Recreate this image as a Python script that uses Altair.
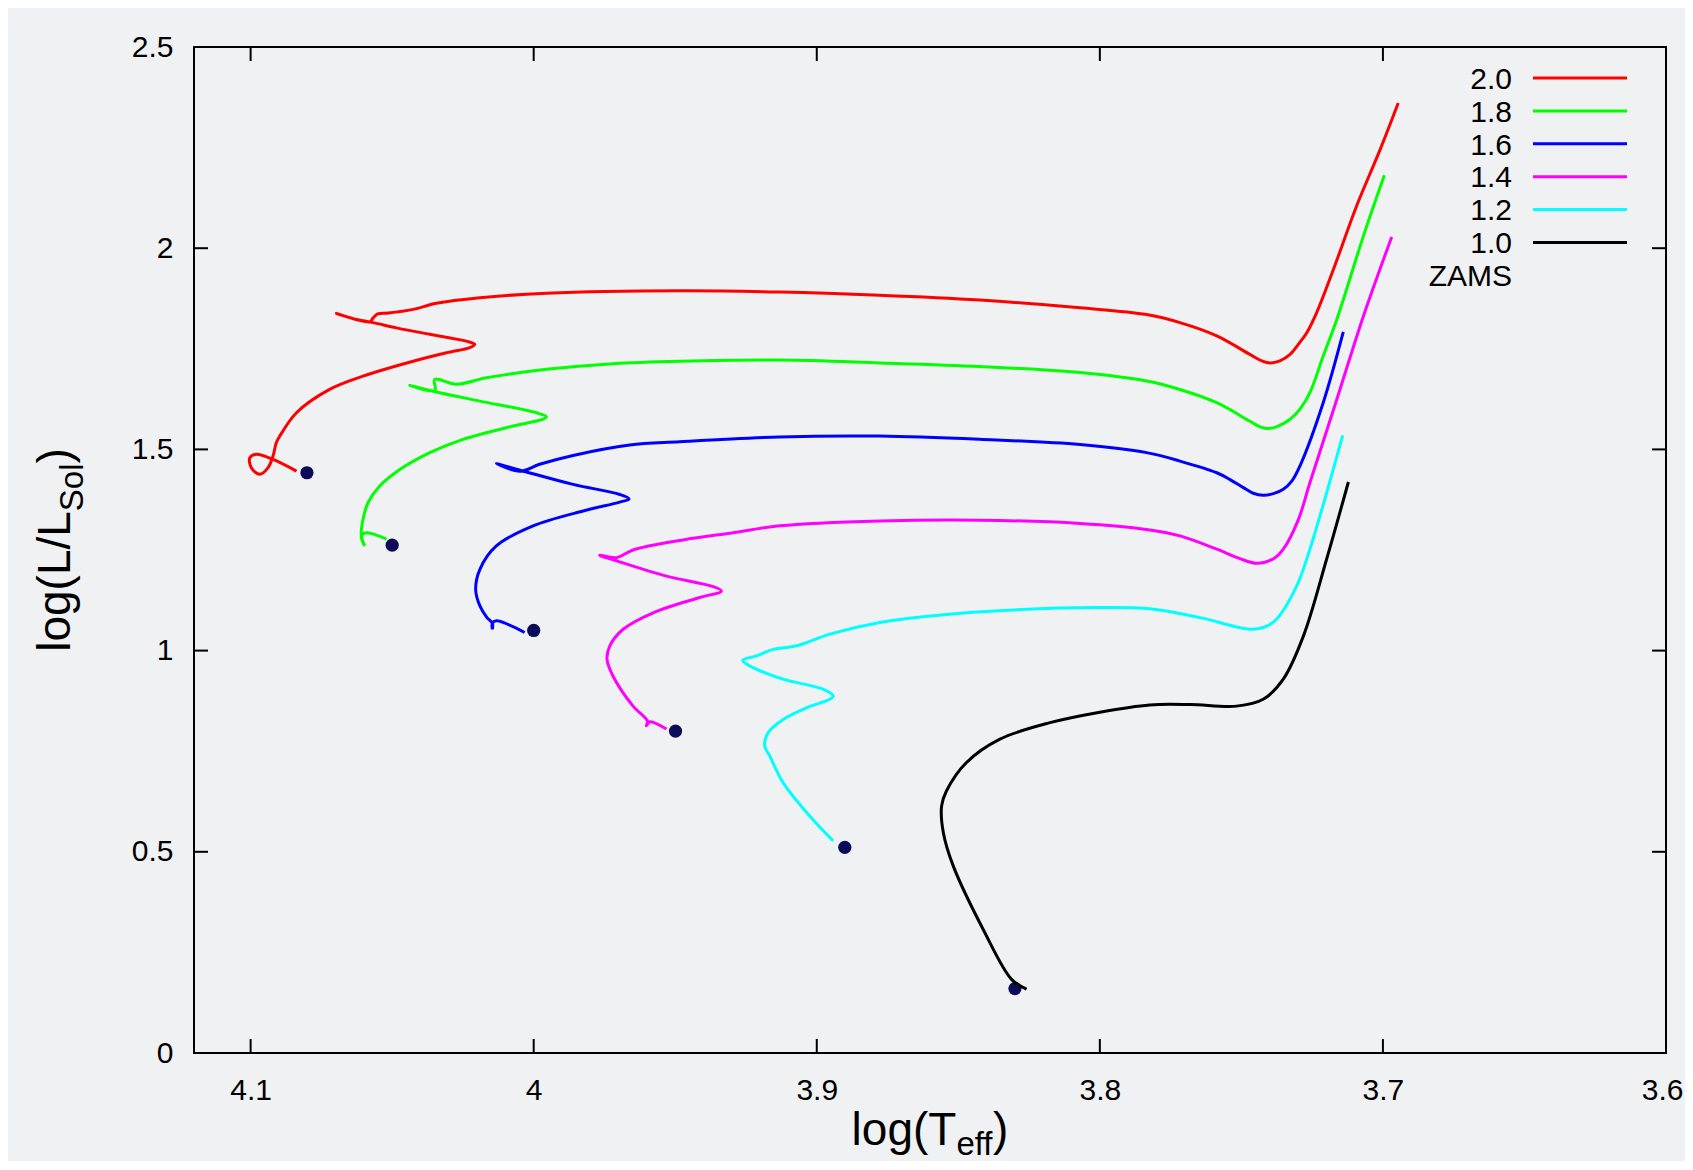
import altair as alt
import pandas as pd

# ---------------- data ----------------
masses = ["2.0", "1.8", "1.6", "1.4", "1.2", "1.0"]
colors = ["#ff0000", "#00ff00", "#0000ff", "#ff00ff", "#00ffff", "#000000"]

zams_logT = [4.0801, 4.0500, 4.0000, 3.9499, 3.8901, 3.8300]
zams_logL = [1.442, 1.262, 1.050, 0.800, 0.511, 0.160]

red_logT = [4.0838, 4.0921, 4.0980, 4.1003, 4.0997, 4.0968, 4.0939, 4.0921, 4.0909, 4.0897,
            4.0838, 4.0721, 4.0603, 4.0426, 4.0308, 4.0226, 4.0208, 4.0238, 4.0367, 4.0485,
            4.0567, 4.0638, 4.0697, 4.0628, 4.0578, 4.0567, 4.0551, 4.0513, 4.0426, 4.0344,
            4.0190, 3.9955, 3.9484, 3.9131, 3.8777, 3.8424, 3.8070, 3.7835, 3.7717, 3.7587,
            3.7470, 3.7434, 3.7399, 3.7364, 3.7328, 3.7299, 3.7269, 3.7234, 3.7175, 3.7093,
            3.7010, 3.6946]
red_logL = [1.446, 1.475, 1.488, 1.479, 1.454, 1.438, 1.454, 1.483, 1.517, 1.533,
            1.591, 1.649, 1.682, 1.719, 1.740, 1.753, 1.761, 1.769, 1.786, 1.802,
            1.815, 1.825, 1.838, 1.823, 1.817, 1.827, 1.837, 1.839, 1.848, 1.863,
            1.877, 1.888, 1.894, 1.891, 1.883, 1.871, 1.852, 1.835, 1.815, 1.782,
            1.736, 1.722, 1.715, 1.720, 1.736, 1.761, 1.790, 1.840, 1.947, 2.105,
            2.245, 2.361]

green_logT = [4.0520, 4.0591, 4.0609, 4.0597, 4.0609, 4.0603, 4.0585, 4.0544, 4.0473, 4.0367,
              4.0250, 4.0073, 3.9967, 3.9955, 3.9990, 4.0190, 4.0332, 4.0438, 4.0349, 4.0350,
              4.0273, 4.0167, 3.9955, 3.9720, 3.9484, 3.9131, 3.8777, 3.8424, 3.8070, 3.7835,
              3.7717, 3.7587, 3.7470, 3.7434, 3.7411, 3.7376, 3.7328, 3.7293, 3.7258, 3.7211,
              3.7163, 3.7069, 3.6995]
green_logL = [1.277, 1.293, 1.285, 1.260, 1.285, 1.326, 1.368, 1.409, 1.450, 1.492,
              1.525, 1.558, 1.575, 1.581, 1.591, 1.620, 1.641, 1.659, 1.646, 1.674,
              1.662, 1.678, 1.699, 1.713, 1.719, 1.722, 1.715, 1.706, 1.691, 1.670,
              1.649, 1.616, 1.570, 1.556, 1.552, 1.556, 1.575, 1.600, 1.641, 1.732,
              1.823, 2.030, 2.181]

blue_logT = [4.0032, 4.0132, 4.0146, 4.0146, 4.0146, 4.0165, 4.0190, 4.0205, 4.0190, 4.0132,
             4.0002, 3.9825, 3.9696, 3.9663, 3.9696, 3.9861, 4.0026, 4.0132, 4.0049, 3.9979,
             3.9861, 3.9661, 3.9484, 3.9131, 3.8777, 3.8424, 3.8070, 3.7835, 3.7717, 3.7587,
             3.7540, 3.7493, 3.7458, 3.7423, 3.7387, 3.7352, 3.7322, 3.7293, 3.7211, 3.7140]
blue_logL = [1.045, 1.074, 1.068, 1.053, 1.068, 1.082, 1.111, 1.152, 1.202, 1.260,
             1.310, 1.347, 1.369, 1.377, 1.388, 1.413, 1.444, 1.465, 1.446, 1.463,
             1.485, 1.511, 1.519, 1.531, 1.533, 1.525, 1.512, 1.492, 1.471, 1.442,
             1.425, 1.405, 1.391, 1.386, 1.390, 1.401, 1.421, 1.459, 1.616, 1.792]

magenta_logT = [3.9531, 3.9590, 3.9602, 3.9598, 3.9649, 3.9720, 3.9741, 3.9731, 3.9684, 3.9578,
                3.9413, 3.9337, 3.9366, 3.9531, 3.9707, 3.9767, 3.9707, 3.9649, 3.9472, 3.9295,
                3.9131, 3.8777, 3.8424, 3.8070, 3.7835, 3.7717, 3.7587, 3.7507, 3.7446, 3.7385,
                3.7352, 3.7299, 3.7258, 3.7163, 3.7069, 3.6969]
magenta_logL = [0.805, 0.823, 0.813, 0.825, 0.862, 0.937, 0.978, 1.012, 1.053, 1.094,
                1.132, 1.148, 1.159, 1.185, 1.223, 1.237, 1.231, 1.250, 1.275, 1.293,
                1.310, 1.322, 1.324, 1.316, 1.301, 1.285, 1.252, 1.229, 1.217, 1.229,
                1.252, 1.325, 1.417, 1.624, 1.831, 2.028]

cyan_logT = [3.8942, 3.9025, 3.9119, 3.9166, 3.9184, 3.9172, 3.9119, 3.9036, 3.8954, 3.8942,
             3.8978, 3.9119, 3.9237, 3.9262, 3.9213, 3.9154, 3.9071, 3.8954, 3.8777, 3.8542,
             3.8306, 3.8012, 3.7824, 3.7646, 3.7470, 3.7420, 3.7376, 3.7305, 3.7258, 3.7142]
cyan_logL = [0.527, 0.589, 0.672, 0.738, 0.763, 0.796, 0.829, 0.858, 0.879, 0.887,
             0.904, 0.929, 0.962, 0.976, 0.987, 1.003, 1.012, 1.041, 1.070, 1.090,
             1.101, 1.107, 1.104, 1.082, 1.053, 1.058, 1.078, 1.160, 1.252, 1.535]

black_logT = [3.8259, 3.8312, 3.8412, 3.8518, 3.8553, 3.8559, 3.8542, 3.8471, 3.8353, 3.8176,
              3.8000, 3.7824, 3.7681, 3.7517, 3.7423, 3.7352, 3.7281, 3.7199, 3.7122]
black_logL = [0.159, 0.183, 0.307, 0.465, 0.548, 0.614, 0.651, 0.722, 0.780, 0.821,
              0.847, 0.865, 0.866, 0.862, 0.879, 0.929, 1.036, 1.227, 1.419]

x_ticks = [4.1, 4.0, 3.9, 3.8, 3.7, 3.6]
y_ticks = [0, 0.5, 1, 1.5, 2, 2.5]
legend_labels = masses + ["ZAMS"]

# ---------------- layout ----------------
W, H = 1472, 1006
FONT = "Liberation Sans"
BG = "#f0f1f3"
TICK = 14

tracks_T = [red_logT, green_logT, blue_logT, magenta_logT, cyan_logT, black_logT]
tracks_L = [red_logL, green_logL, blue_logL, magenta_logL, cyan_logL, black_logL]
rows = []
for m, ts, ls in zip(masses, tracks_T, tracks_L):
    for i, (t, l) in enumerate(zip(ts, ls)):
        rows.append({"mass": m, "i": i, "logT": t, "logL": l})
tracks = pd.DataFrame(rows)
zams = pd.DataFrame({"logT": zams_logT, "logL": zams_logL})

xscale = alt.Scale(domain=[3.6, 4.12], reverse=True, nice=False, zero=False)
yscale = alt.Scale(domain=[0, 2.5], nice=False, zero=False)
axis_common = dict(ticks=False, domain=False, grid=False, title=None, format="~g",
                   labelFont=FONT, labelFontSize=30, labelColor="black",
                   labelOverlap=False)
xaxis = alt.Axis(values=x_ticks, labelPadding=22, labelFlush=True, labelFlushOffset=17,
                 **axis_common)
yaxis = alt.Axis(values=y_ticks, labelPadding=21, labelFlush=False, **axis_common)


def X(field):
    return alt.X(field, type="quantitative", scale=xscale, axis=xaxis)


def Y(field):
    return alt.Y(field, type="quantitative", scale=yscale, axis=yaxis)


dots = alt.Chart(zams).mark_circle(size=175, color="#0b0b5a", opacity=1).encode(
    x=X("logT"), y=Y("logL"))

lines = alt.Chart(tracks).mark_line(strokeWidth=3, interpolate="catmull-rom").encode(
    x=X("logT"), y=Y("logL"),
    color=alt.Color("mass:N", scale=alt.Scale(domain=masses, range=colors), legend=None),
    order=alt.Order("i:Q"),
)

xt = pd.DataFrame({"v": x_ticks})
yt = pd.DataFrame({"v": y_ticks})
tick_style = dict(color="black", strokeWidth=2)
ticks_bottom = alt.Chart(xt).mark_rule(**tick_style).encode(
    x=X("v"), y=alt.value(H), y2=alt.value(H - TICK))
ticks_top = alt.Chart(xt).mark_rule(**tick_style).encode(
    x=X("v"), y=alt.value(0), y2=alt.value(TICK))
ticks_left = alt.Chart(yt).mark_rule(**tick_style).encode(
    y=Y("v"), x=alt.value(0), x2=alt.value(TICK))
ticks_right = alt.Chart(yt).mark_rule(**tick_style).encode(
    y=Y("v"), x=alt.value(W), x2=alt.value(W - TICK))

# legend (label on the left, line sample on the right)
LEG_Y0, LEG_DY = 31.0, 32.9
leg = pd.DataFrame({
    "label": legend_labels,
    "ly": [LEG_Y0 + k * LEG_DY for k in range(len(legend_labels))],
})
leg["ty"] = leg["ly"] + 10.7
leg_lines = pd.DataFrame({"mass": masses, "col": colors,
                          "ly": [LEG_Y0 + k * LEG_DY for k in range(len(masses))]})
legend_text = alt.Chart(leg).mark_text(align="right", baseline="alphabetic", font=FONT,
                                       fontSize=30, color="black").encode(
    x=alt.value(1318), y=alt.Y("ty:Q", scale=None), text="label:N")
legend_rules = alt.Chart(leg_lines).mark_rule(strokeWidth=3).encode(
    x=alt.value(1339), x2=alt.value(1433), y=alt.Y("ly:Q", scale=None),
    color=alt.Color("col:N", scale=None))

# axis titles with subscripts
AW = {'l': 0.222, 'o': 0.556, 'g': 0.556, '(': 0.333, ')': 0.333, 'T': 0.611,
      'e': 0.556, 'f': 0.278, 'L': 0.556, '/': 0.278, 'S': 0.667}


def tw(s, fs):
    return sum(AW.get(c, 0.556) for c in s) * fs


FS_T, FS_S = 46, 33
xparts = [("log(T", FS_T, 0), ("eff", FS_S, 10), (")", FS_T, 0)]
total = sum(tw(s, f) for s, f, _ in xparts)
cx = W / 2 - total / 2
xrows = []
for s, f, d in xparts:
    xrows.append({"t": s, "px": cx, "py": 1098 + d, "fs": f})
    cx += tw(s, f)
xtitle = alt.Chart(pd.DataFrame(xrows)).mark_text(
    align="left", baseline="alphabetic", font=FONT, color="black").encode(
    x=alt.X("px:Q", scale=None), y=alt.Y("py:Q", scale=None),
    size=alt.Size("fs:Q", scale=None), text="t:N")

yparts = [("log(L/L", FS_T, 0), ("Sol", FS_S, 13), (")", FS_T, 0)]
total = sum(tw(s, f) for s, f, _ in yparts)
cy = H / 2 + total / 2
yrows = []
for s, f, d in yparts:
    yrows.append({"t": s, "px": -124 + d, "py": cy, "fs": f})
    cy -= tw(s, f)
ytitle = alt.Chart(pd.DataFrame(yrows)).mark_text(
    align="left", baseline="alphabetic", font=FONT, color="black", angle=270).encode(
    x=alt.X("px:Q", scale=None), y=alt.Y("py:Q", scale=None),
    size=alt.Size("fs:Q", scale=None), text="t:N")

chart = alt.layer(
    dots, lines, ticks_bottom, ticks_top, ticks_left, ticks_right,
    legend_rules, legend_text, xtitle, ytitle,
).properties(
    width=W, height=H,
    padding={"left": 186, "top": 39, "right": 19, "bottom": 108},
    autosize=alt.AutoSizeParams(type="none"),
    background=BG,
).configure_view(stroke="black", strokeWidth=2)

chart.save("out.html", embed_options={"renderer": "svg", "actions": False})
